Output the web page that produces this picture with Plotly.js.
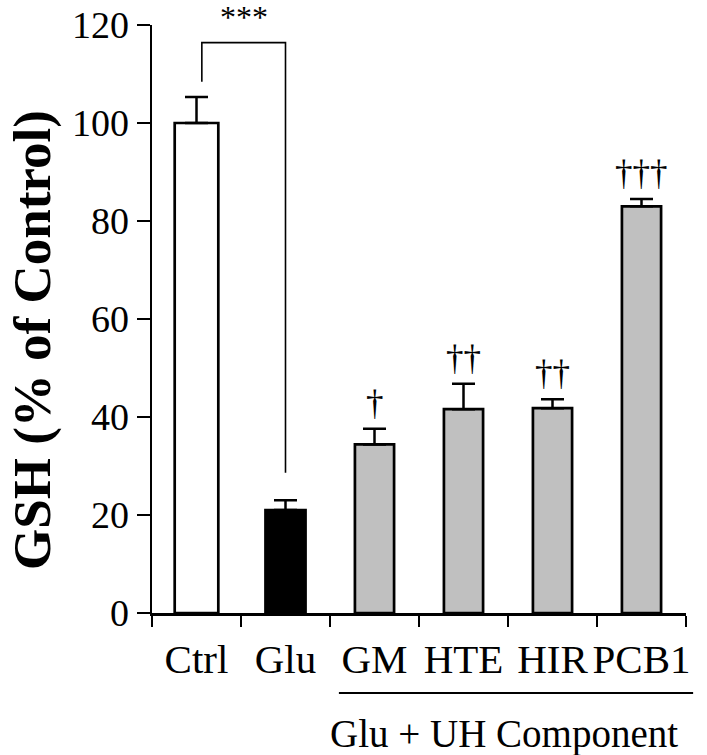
<!DOCTYPE html>
<html>
<head>
<meta charset="utf-8">
<script src="https://cdn.plot.ly/plotly-3.0.1.min.js"></script>
<style>html,body{margin:0;padding:0;background:#fff;}#chart{width:707px;height:755px;}</style>
</head>
<body>
<div id="chart"></div>
<script>
// ---- data ----
const categories = ['Ctrl', 'Glu', 'GM', 'HTE', 'HIR', 'PCB1'];
const gshMean = [100, 21, 34.4, 41.6, 41.8, 83.0];
const gshSE = [5.3, 2.0, 3.2, 5.2, 1.8, 1.5];
const sigMarks = ['', '', '\u2020', '\u2020\u2020', '\u2020\u2020', '\u2020\u2020\u2020'];
const yTickVals = [0, 20, 40, 60, 80, 100, 120];
const bracketPair = ['Ctrl', 'Glu'];
const bracketTop = 116.4;
const bracketEnds = [108.4, 28.6];
const bracketLabel = '***';
const groupFirst = 'GM';
const groupLast = 'PCB1';
const groupLabel = 'Glu + UH Component';
const yTitle = 'GSH (% of Control)';

// ---- styles ----
const FONT = 'Liberation Serif, Times New Roman, serif';
const fillColors = ['#ffffff', '#000000', '#c0c0c0', '#c0c0c0', '#c0c0c0', '#c0c0c0'];
const barWidths = [0.49, 0.45, 0.44, 0.44, 0.44, 0.44];

const trace = {
  type: 'bar',
  x: categories,
  y: gshMean,
  width: barWidths,
  marker: {color: fillColors, line: {color: '#000', width: 2.7}},
  error_y: {
    type: 'data', symmetric: false, array: gshSE,
    arrayminus: gshSE.map(() => 0),
    color: '#000', thickness: 2.5, width: 11.5
  },
  hoverinfo: 'none',
  cliponaxis: false
};

const idx = c => categories.indexOf(c);
const n = categories.length;

const annotations = [];
categories.forEach((c, i) => {
  if (sigMarks[i]) {
    annotations.push({
      x: c, y: gshMean[i] + gshSE[i], xref: 'x', yref: 'y',
      text: sigMarks[i], showarrow: false,
      xanchor: 'center', yanchor: 'bottom', yshift: 4,
      font: {family: FONT, size: 35, color: '#000'}
    });
  }
});
annotations.push({
  x: (idx(bracketPair[0]) + idx(bracketPair[1])) / 2 + 0.03, y: bracketTop,
  xref: 'x', yref: 'y', text: bracketLabel, showarrow: false,
  xanchor: 'center', yanchor: 'bottom', yshift: 6,
  font: {family: FONT, size: 32, color: '#000'}
});
annotations.push({
  x: -0.225, y: 0.464, xref: 'paper', yref: 'paper',
  text: '<b>' + yTitle + '</b>', textangle: -90, showarrow: false,
  xanchor: 'center', yanchor: 'middle',
  font: {family: FONT, size: 53, color: '#000'}
});
annotations.push({
  x: 0.659, y: -0.205, xref: 'paper', yref: 'paper',
  text: groupLabel, showarrow: false, xanchor: 'center', yanchor: 'middle',
  font: {family: FONT, size: 39, color: '#000'}
});

const b0 = idx(bracketPair[0]) + 0.06, b1 = idx(bracketPair[1]);
const shapes = [
  {
    type: 'path', xref: 'x', yref: 'y',
    path: `M ${b0} ${bracketEnds[0]} L ${b0} ${bracketTop} L ${b1} ${bracketTop} L ${b1} ${bracketEnds[1]}`,
    line: {color: '#000', width: 1.6}
  },
  {
    type: 'line', xref: 'paper', yref: 'paper',
    x0: (idx(groupFirst) + 0.1) / n, x1: (idx(groupLast) + 1.08) / n,
    y0: -0.136, y1: -0.136,
    line: {color: '#000', width: 2}
  }
];

const layout = {
  width: 707, height: 755,
  margin: {l: 152, r: 21, t: 25, b: 142, pad: 0},
  paper_bgcolor: '#fff', plot_bgcolor: '#fff',
  showlegend: false,
  bargap: 0.5,
  xaxis: {
    type: 'category', range: [-0.5, n - 0.5],
    showline: true, linecolor: '#000', linewidth: 2.5,
    ticks: 'outside', tickson: 'boundaries', ticklen: 11, tickwidth: 2.5, tickcolor: '#000',
    tickangle: 0, automargin: false, ticklabelstandoff: 8,
    tickfont: {family: FONT, size: 41, color: '#000'},
    showgrid: false, zeroline: false, fixedrange: true
  },
  yaxis: {
    range: [0, 120], tickvals: yTickVals,
    showline: true, linecolor: '#000', linewidth: 2.5,
    ticks: 'outside', ticklen: 13, tickwidth: 2.5, tickcolor: '#000',
    tickfont: {family: FONT, size: 38, color: '#000'},
    showgrid: false, zeroline: false, fixedrange: true
  },
  annotations: annotations,
  shapes: shapes
};

Plotly.newPlot('chart', [trace], layout, {displayModeBar: false, staticPlot: true});
</script>
</body>
</html>
